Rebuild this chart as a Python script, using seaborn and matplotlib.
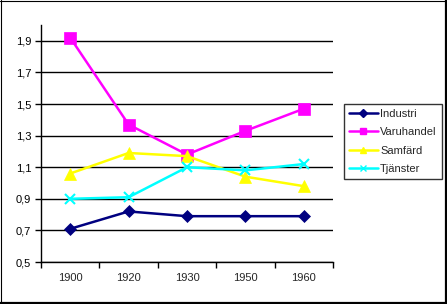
import matplotlib
matplotlib.use("Agg")
import matplotlib.pyplot as plt
from matplotlib.lines import Line2D
import seaborn as sns
import pandas as pd
import numpy as np

years = ["1900", "1920", "1930", "1950", "1960"]
industri = [0.71, 0.82, 0.79, 0.79, 0.79]
varuhandel = [1.92, 1.37, 1.18, 1.33, 1.47]
samfard = [1.06, 1.19, 1.17, 1.04, 0.98]
tjanster = [0.90, 0.91, 1.10, 1.08, 1.12]
series_names = ["Industri", "Varuhandel", "Samfärd", "Tjänster"]
y_ticks = [0.5, 0.7, 0.9, 1.1, 1.3, 1.5, 1.7, 1.9]

sns.set_theme(style="white")
plt.rcParams["font.family"] = ["Liberation Sans", "DejaVu Sans"]

rows = []
for name, vals in zip(series_names, [industri, varuhandel, samfard, tjanster]):
    for i, (yr, v) in enumerate(zip(years, vals)):
        rows.append({"pos": i, "year": yr, "value": v, "series": name})
df = pd.DataFrame(rows)

palette = {"Industri": "#000080", "Varuhandel": "#FF00FF",
           "Samfärd": "#FFFF00", "Tjänster": "#00FFFF"}
markers = {"Industri": "D", "Varuhandel": "s", "Samfärd": "^", "Tjänster": "x"}
msizes = {"Industri": 6, "Varuhandel": 8, "Samfärd": 9, "Tjänster": 7}

W, H = 447, 304
fig = plt.figure(figsize=(W / 100, H / 100), dpi=100)
fig.patch.set_facecolor("white")
ax = fig.add_axes([41 / W, (H - 262) / H, (333 - 41) / W, (262 - 25) / H])

for name in series_names:
    sub = df[df["series"] == name]
    sns.lineplot(data=sub, x="pos", y="value", color=palette[name], ax=ax,
                 marker=markers[name], markersize=msizes[name],
                 markeredgecolor=palette[name], markeredgewidth=1.5 if name == "Tjänster" else 0.5,
                 linewidth=1.8, legend=False)

ax.set_xlim(-0.5, 4.5)
ax.set_ylim(0.5, 2.0)
ax.set_yticks(y_ticks)
ax.set_yticklabels([f"{t:.1f}".replace(".", ",") for t in y_ticks], fontsize=8)
ax.yaxis.grid(True, color="black", linewidth=1)
ax.set_axisbelow(True)
ax.set_xticks(np.arange(-0.5, 5, 1))
ax.set_xticklabels([""] * 6)
ax.set_xticks(np.arange(len(years)), minor=True)
ax.set_xticklabels(years, minor=True, fontsize=8)
ax.tick_params(axis="x", which="major", direction="out", length=4, width=1, color="black", bottom=True)
ax.tick_params(axis="x", which="minor", length=0, pad=8, bottom=True)
ax.tick_params(axis="y", direction="out", length=4, width=1, color="black", left=True, pad=3)
for s in ["top", "right"]:
    ax.spines[s].set_visible(False)
for s in ["left", "bottom"]:
    ax.spines[s].set_color("black")
    ax.spines[s].set_linewidth(1)
ax.set_xlabel("")
ax.set_ylabel("")
ax.tick_params(colors="black", labelcolor="black")

handles = [Line2D([0], [0], color=palette[n], marker=markers[n], markersize=4,
                  markeredgecolor=palette[n], linewidth=1.8) for n in series_names]
leg = fig.legend(handles, series_names, loc="upper left",
                 bbox_to_anchor=(344 / W, 1 - 104 / H), fontsize=8,
                 frameon=True, fancybox=False, edgecolor="black",
                 handlelength=2.6, handletextpad=0.2, labelspacing=0.75,
                 borderpad=0.45, borderaxespad=0)
leg.get_frame().set_linewidth(1)

# figure border
fig.add_artist(Line2D([0.5 / W, 0.5 / W], [0, 1], color="black", lw=0.8, transform=fig.transFigure))
fig.add_artist(Line2D([0, 1], [1 - 0.5 / H, 1 - 0.5 / H], color="black", lw=0.8, transform=fig.transFigure))
fig.add_artist(Line2D([1 - 1.5 / W, 1 - 1.5 / W], [0, 1], color="black", lw=1.6, transform=fig.transFigure))
fig.add_artist(Line2D([0, 1], [1.5 / H, 1.5 / H], color="black", lw=1.6, transform=fig.transFigure))

fig.savefig("out.png", dpi=100, facecolor="white")
